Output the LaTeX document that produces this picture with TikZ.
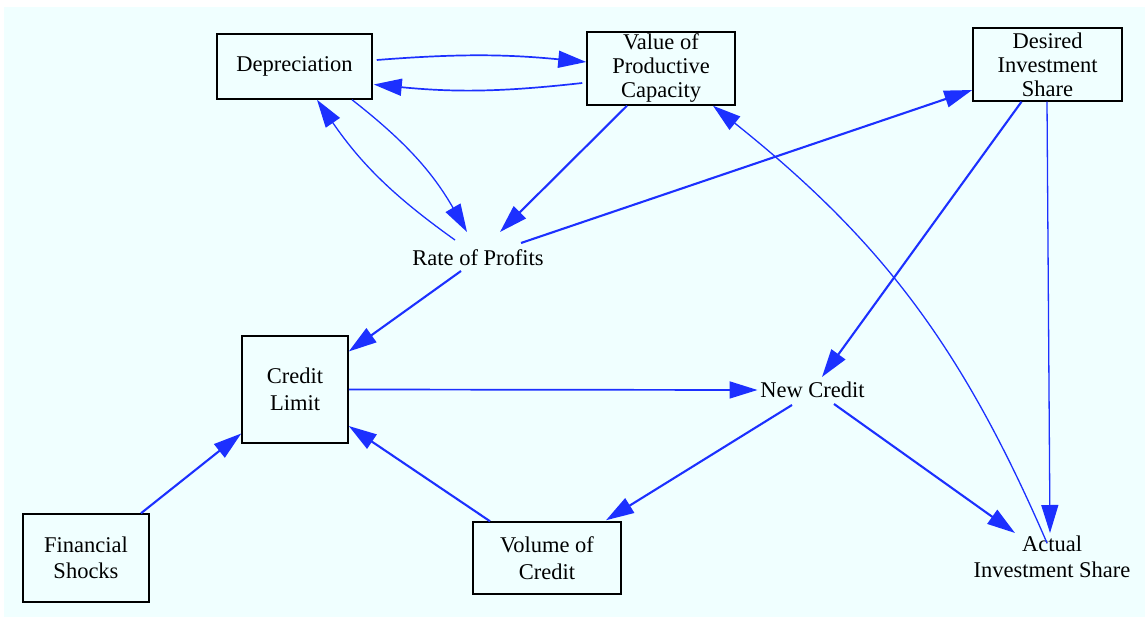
\documentclass[tikz,border=0pt]{standalone}
\usepackage{fontspec}
\setmainfont{Liberation Serif}
\usetikzlibrary{arrows.meta}
\definecolor{bgc}{RGB}{240,255,255}
\definecolor{edgec}{RGB}{28,48,255}
\begin{document}
\begin{tikzpicture}[x=1pt,y=-1pt,
  lbl/.style={font=\fontsize{22.5}{26.5}\selectfont, align=center, inner sep=0pt},
  tight/.style={font=\fontsize{22.5}{24}\selectfont},
  box/.style={lbl, draw=black, line width=1.5pt, fill=bgc},
  thickedge/.style={draw=edgec, line width=2.1pt, -{Triangle[length=28pt,width=17pt]}},
  midedge/.style={draw=edgec, line width=1.7pt, -{Triangle[length=28pt,width=17pt]}},
  thinedge/.style={draw=edgec, line width=1.3pt, -{Triangle[length=28pt,width=17pt]}},
]
\fill[white] (0,0) rectangle (1145,617);
\useasboundingbox (0,0) rectangle (1145,617);
\fill[bgc] (4,7) rectangle (1145,617);

\node[box, minimum width=155pt, minimum height=65pt] (dep) at (294.5,66.5) {Depreciation};
\node[box, tight, minimum width=148pt, minimum height=73pt] (val) at (661,68.5) {Value of\\Productive\\Capacity};
\node[box, tight, minimum width=149pt, minimum height=73pt] (des) at (1047.5,64.5) {Desired\\Investment\\Share};
\node[lbl] (rop) at (478,258) {Rate of Profits};
\node[box, minimum width=106pt, minimum height=107pt] (cl) at (295,389.5) {Credit\\Limit};
\node[lbl] (nc) at (812.5,390) {New Credit};
\node[box, minimum width=126pt, minimum height=88pt] (fs) at (86,558) {Financial\\Shocks};
\node[box, minimum width=148pt, minimum height=72pt] (vol) at (547,558) {Volume of\\Credit};
\node[lbl] (act) at (1052,557) {Actual\\Investment Share};

\draw[midedge] ([shift={(4,-6.5)}]dep.east) to[bend left=5] ([shift={(0,-6.5)}]val.west);
\draw[midedge] ([shift={(-4,14.5)}]val.west) to[bend left=6] ([shift={(1,18)}]dep.east);
\draw[thinedge] ([shift={(-23,-18)}]rop.center) to[bend left=10] ([shift={(22.5,0)}]dep.south);
\draw[thinedge] ([shift={(57.5,0)}]dep.south) to[bend left=11] ([shift={(-11,-26)}]rop.center);
\draw[thickedge] ([shift={(-34,0)}]val.south) -- ([shift={(22,-26)}]rop.center);
\draw[thickedge] ([shift={(43,-15)}]rop.center) -- ([shift={(0,25.5)}]des.west);
\draw[thickedge] ([shift={(-17,13)}]rop.center) -- ([shift={(0,-38)}]cl.east);
\draw[midedge] (cl.east) -- ([shift={(-55,0)}]nc.center);
\draw[thickedge] ([shift={(-26,0)}]des.south) -- ([shift={(9.5,-13)}]nc.center);
\draw[thinedge] ([shift={(-0.5,0)}]des.south) -- ([shift={(-2,-24)}]act.center);
\draw[thinedge] ([shift={(-5,-14)}]act.center) to[bend right=14] ([shift={(52,0)}]val.south);
\draw[thickedge] ([shift={(21.5,14)}]nc.center) -- ([shift={(-37,-24)}]act.center);
\draw[thickedge] ([shift={(-20.5,15)}]nc.center) -- ([shift={(59,-1)}]vol.north);
\draw[thickedge] ([shift={(-57,0)}]vol.north) -- ([shift={(0,36.5)}]cl.east);
\draw[thickedge] ([shift={(55,0)}]fs.north) -- ([shift={(0,44)}]cl.west);
\end{tikzpicture}
\end{document}
